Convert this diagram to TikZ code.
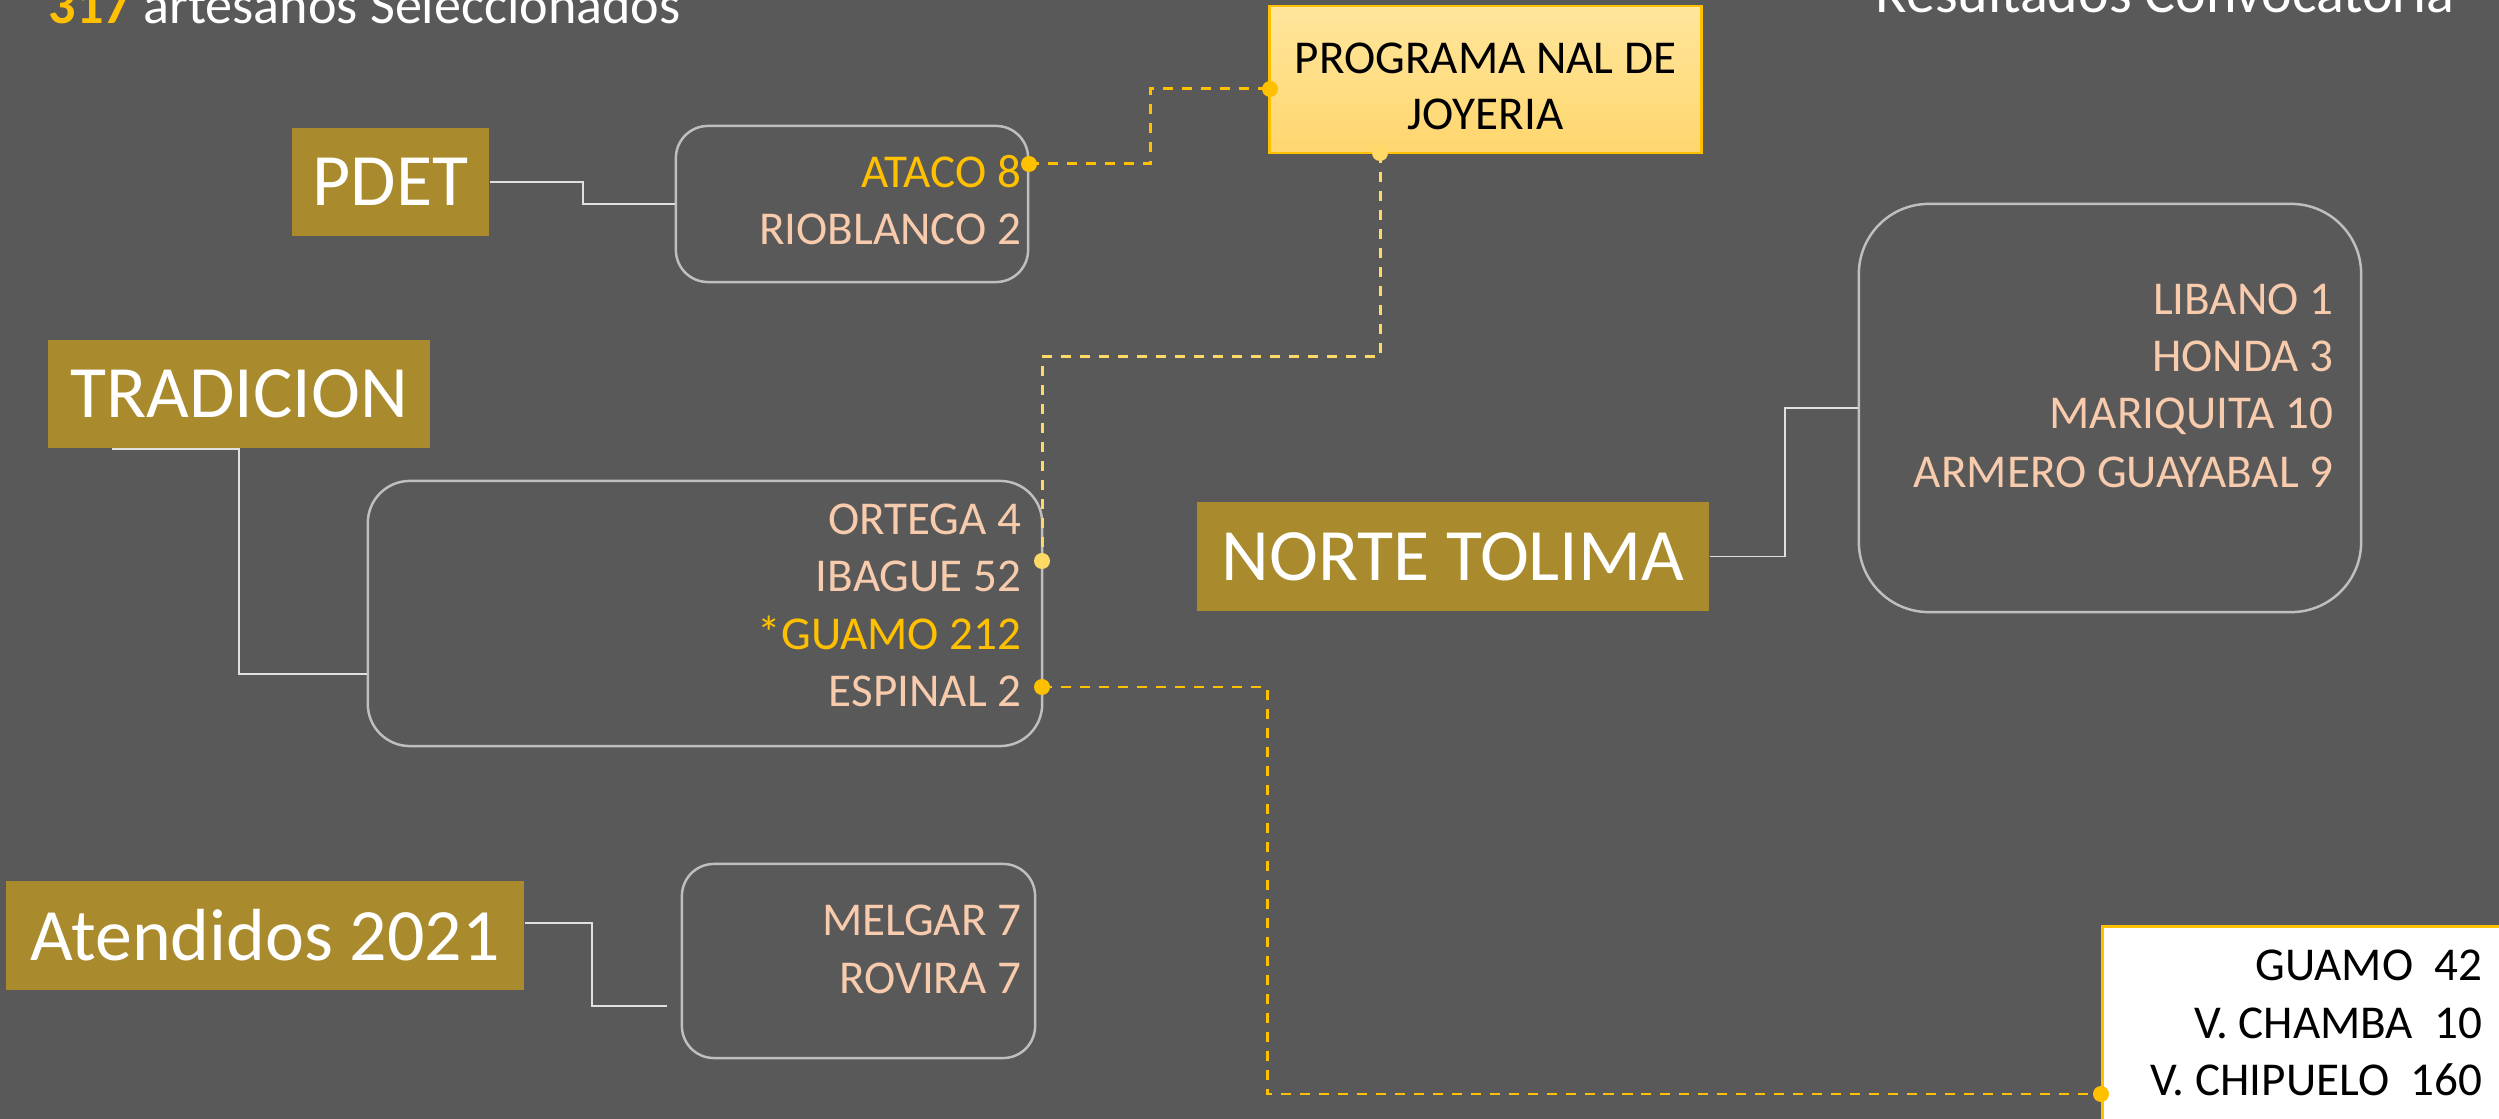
\documentclass[tikz,border=0pt]{standalone}
\usepackage{fontspec}
\setmainfont{Carlito}
\definecolor{slatebg}{RGB}{89,89,89}
\definecolor{olivehdr}{RGB}{169,139,45}
\definecolor{goldacc}{RGB}{255,192,0}
\definecolor{paleamber}{RGB}{255,217,102}
\definecolor{peachtxt}{RGB}{248,203,173}
\definecolor{edgegray}{RGB}{191,191,191}
\definecolor{progtop}{RGB}{255,230,156}
\definecolor{progbot}{RGB}{255,214,110}

\tikzset{
  header/.style={fill=olivehdr, text=white, inner sep=0pt, minimum height=1.08cm,
    font=\fontsize{21}{25}\selectfont},
  listbox/.style={draw=edgegray, line width=0.7pt, inner sep=0pt},
  cityline/.style={anchor=base east, inner sep=0pt, text=peachtxt,
    font=\fontsize{13.4}{16}\selectfont},
  link/.style={draw=white!88!black, line width=0.45pt},
  dashlink/.style={draw=goldacc, line width=0.85pt, dash pattern=on 2.85pt off 2.55pt},
  golddot/.style={circle, fill=goldacc, inner sep=0pt, minimum size=0.16cm},
  paledot/.style={golddot, fill=paleamber},
}

\begin{document}
\begin{tikzpicture}[x=0.01cm, y=-0.01cm]
\useasboundingbox (0,0) rectangle (2499,1119);
\clip (0,0) rectangle (2499,1119);
\fill[slatebg] (0,0) rectangle (2499,1119);

% Titles
\node[anchor=base west, inner sep=0pt, text=white, font=\fontsize{15.4}{18}\selectfont] (title) at (48,24)
  {\textcolor{goldacc}{\textbf{317}} artesanos Seleccionados};
\node[anchor=base east, inner sep=0pt, text=white, font=\fontsize{16.5}{20}\selectfont] (subtitle) at (2455,13)
  {Resultados Convocatoria};

% Headers
\node[header, minimum width=1.97cm] (pdet) at (390.5,182) {PDET};
\node[header, minimum width=3.82cm] (trad) at (239,394) {TRADICION};
\node[header, minimum width=5.12cm] (norte) at (1453,556.5) {NORTE TOLIMA};
\node[header, minimum width=5.18cm] (aten) at (265,935.5) {Atendidos 2021};

% Boxes with municipalities
\node[listbox, rounded corners=0.32cm, minimum width=3.52cm, minimum height=1.56cm] (pdetbox) at (852,204) {};
\node[listbox, rounded corners=0.42cm, minimum width=6.74cm, minimum height=2.65cm] (tradbox) at (705,613.5) {};
\node[listbox, rounded corners=0.70cm, minimum width=5.02cm, minimum height=4.08cm] (nortebox) at (2110,408) {};
\node[listbox, rounded corners=0.32cm, minimum width=3.53cm, minimum height=1.94cm] (atenbox) at (858.5,961) {};

\foreach \name/\txt/\col/\yy in {ataco/ATACO 8/goldacc/188, rioblanco/RIOBLANCO 2/peachtxt/245,
    ortega/ORTEGA 4/peachtxt/535, ibague/IBAGUE 52/peachtxt/592,
    guamo/*GUAMO 212/goldacc/650, espinal/ESPINAL 2/peachtxt/707,
    melgar/MELGAR 7/peachtxt/936, rovira/ROVIRA 7/peachtxt/994}
  \node[cityline, text=\col] (\name) at (1022,\yy) {\txt};

\foreach \name/\txt/\yy in {libano/LIBANO 1/315, honda/HONDA 3/372,
    mariquita/MARIQUITA 10/429, armero/ARMERO GUAYABAL 9/488}
  \node[cityline] (\name) at (2334,\yy) {\txt};

% Program box
\node[draw=goldacc, line width=0.8pt, top color=progtop, bottom color=progbot,
  minimum width=4.31cm, minimum height=1.47cm, inner sep=0pt] (prog) at (1485.5,79.5) {};
\node[align=center, inner sep=0pt, font=\fontsize{13.4}{15.9}\selectfont] (progtext) at (1485.5,86)
  {PROGRAMA NAL DE\\JOYERIA};

% Veredas box
\node[draw=goldacc, fill=white, line width=0.9pt, anchor=north west,
  minimum width=4.3cm, minimum height=2.2cm] (vereda) at (2101,925) {};
\node[cityline, text=black] (vguamo) at (2483,981) {GUAMO\ \ 42};
\node[cityline, text=black] (vchamba) at (2483,1038) {V. CHAMBA\ \ 10};
\node[cityline, text=black] (vchipuelo) at (2483,1096) {V. CHIPUELO\ \ 160};

% Solid links
\draw[link] (pdet.east) -- ++(93,0) |- (pdetbox.west);
\draw[link] ([xshift=-1.27cm]trad.south) -- (trad.south) |- ([yshift=-0.605cm]tradbox.west);
\draw[link] (norte.east) -- ++(75,0) |- (nortebox.west);
\draw[link, shorten >=0.14cm] ([yshift=0.125cm]aten.east) -- ++(67,0) |- ([yshift=-0.45cm]atenbox.west);

% Dashed links
\coordinate (atacoend) at (1029,164);
\coordinate (progin) at (1270,89);
\coordinate (progout) at (1380,153);
\coordinate (ibagueend) at (1042,561);
\coordinate (espinalend) at (1042,687);
\coordinate (chipend) at (2101,1094);
\draw[dashlink] (atacoend) -- ++(121,0) |- (progin);
\draw[dashlink, draw=paleamber] (progout) -- ++(0,204) -| (ibagueend);
\draw[dashlink] (espinalend) -- ++(225,0) |- (chipend);

\node[golddot] (atacodot) at (atacoend) {};
\node[golddot] (progindot) at (progin) {};
\node[paledot] (progoutdot) at (progout) {};
\node[paledot] (ibaguedot) at (ibagueend) {};
\node[golddot] (espinaldot) at (espinalend) {};
\node[golddot] (chipdot) at (chipend) {};
\end{tikzpicture}
\end{document}
